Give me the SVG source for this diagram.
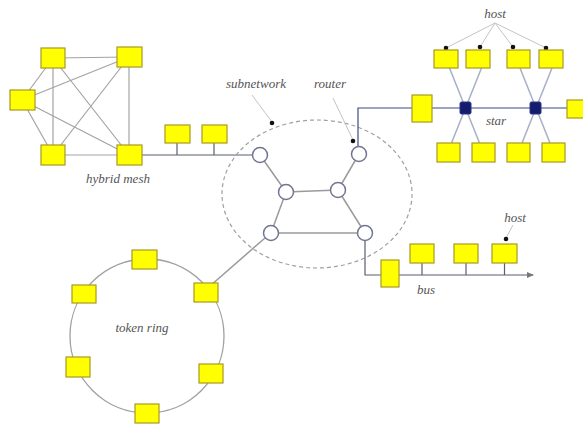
<svg xmlns="http://www.w3.org/2000/svg" width="583" height="425" viewBox="0 0 583 425">
  <style>
    .box { fill: #ffff00; stroke: #a89a20; stroke-width: 1.2; }
    .mesh { stroke: #a3a3a3; stroke-width: 1.2; fill: none; }
    .bus { stroke: #5a5f70; stroke-width: 1.2; fill: none; }
    .starbus { stroke: #3c4a86; stroke-width: 1.2; fill: none; }
    .spoke { stroke: #a6b0c4; stroke-width: 1.5; fill: none; }
    .link { stroke: #9a9a9a; stroke-width: 1.5; fill: none; }
    .lead { stroke: #c4c4c4; stroke-width: 1; fill: none; }
    .router { fill: #ffffff; stroke: #727592; stroke-width: 1.5; }
    .hub { fill: #141c6e; stroke: #2a3484; stroke-width: 1; }
    .dot { fill: #111111; }
    .label { font-family: "Liberation Serif", "Times New Roman", serif; font-style: italic; font-size: 13px; fill: #555555; text-anchor: middle; }
  </style>
  <defs>
    <marker id="tip" viewBox="0 0 6 6" refX="5" refY="3" markerWidth="6" markerHeight="6" orient="auto">
      <path d="M0,0.5 L6,3 L0,5.5 Z" fill="#777777"/>
    </marker>
  </defs>

  <rect width="583" height="425" fill="#ffffff"/>

  <g id="connectors">
    <!-- hybrid mesh: full mesh between five hosts -->
    <line class="mesh" x1="53" y1="58" x2="129" y2="57"/>
    <line class="mesh" x1="53" y1="58" x2="22" y2="100"/>
    <line class="mesh" x1="53" y1="58" x2="53" y2="155"/>
    <line class="mesh" x1="53" y1="58" x2="129" y2="155"/>
    <line class="mesh" x1="129" y1="57" x2="22" y2="100"/>
    <line class="mesh" x1="129" y1="57" x2="53" y2="155"/>
    <line class="mesh" x1="129" y1="57" x2="129" y2="155"/>
    <line class="mesh" x1="22" y1="100" x2="53" y2="155"/>
    <line class="mesh" x1="22" y1="100" x2="129" y2="155"/>
    <line class="mesh" x1="53" y1="155" x2="129" y2="155"/>
    <!-- bus from the mesh to the subnetwork -->
    <line class="bus" x1="129" y1="155" x2="252.5" y2="155"/>
    <line class="bus" x1="177" y1="143" x2="177" y2="155"/>
    <line class="bus" x1="214" y1="143" x2="214" y2="155"/>

    <!-- subnetwork boundary -->
    <ellipse cx="317" cy="194" rx="95" ry="74" fill="none" stroke="#a0a0a0" stroke-width="1.2" stroke-dasharray="4 3"/>

    <!-- router links -->
    <line class="link" x1="260" y1="155" x2="286" y2="192"/>
    <line class="link" x1="359" y1="154" x2="338" y2="190"/>
    <line class="link" x1="286" y1="192" x2="338" y2="190"/>
    <line class="link" x1="286" y1="192" x2="271" y2="233"/>
    <line class="link" x1="338" y1="190" x2="365" y2="233"/>
    <line class="link" x1="271" y1="233" x2="365" y2="233"/>

    <!-- token ring -->
    <circle cx="147" cy="336" r="77" fill="none" stroke="#a0a0a0" stroke-width="1.3"/>
    <line class="link" x1="210" y1="286" x2="265" y2="238"/>

    <!-- star: trunk from router -->
    <polyline class="starbus" points="358,146.5 358,108 583,108"/>
    <line class="spoke" x1="449.5" y1="68" x2="479.5" y2="143"/>
    <line class="spoke" x1="481.5" y1="68" x2="451.5" y2="143"/>
    <line class="spoke" x1="520" y1="68" x2="550" y2="143"/>
    <line class="spoke" x1="552" y1="68" x2="522" y2="143"/>
    <!-- host labels on the star -->
    <line class="lead" x1="495" y1="23" x2="446" y2="48"/>
    <line class="lead" x1="495" y1="23" x2="480" y2="47"/>
    <line class="lead" x1="495" y1="23" x2="513" y2="47"/>
    <line class="lead" x1="495" y1="23" x2="546" y2="48"/>

    <!-- bus from lower router -->
    <polyline class="bus" points="365,240.5 365,275 533,275" marker-end="url(#tip)"/>
    <line class="bus" x1="422" y1="263" x2="422" y2="275"/>
    <line class="bus" x1="466" y1="263" x2="466" y2="275"/>
    <line class="bus" x1="504.5" y1="263" x2="504.5" y2="275"/>
    <line class="lead" x1="513" y1="225" x2="506" y2="238"/>

    <!-- leaders for subnetwork and router labels -->
    <line class="lead" x1="252" y1="95" x2="272" y2="122"/>
    <line class="lead" x1="333" y1="98" x2="353" y2="140"/>
  </g>

  <!-- hybrid mesh hosts -->
  <g id="mesh-hosts">
    <rect class="box" x="41" y="48" width="24" height="20"/>
    <rect class="box" x="117" y="47" width="25" height="20"/>
    <rect class="box" x="10" y="90" width="25" height="20"/>
    <rect class="box" x="41" y="145" width="24" height="20"/>
    <rect class="box" x="117" y="145" width="25" height="20"/>
  </g>
  <g id="mesh-bus-hosts">
    <rect class="box" x="165" y="125" width="25" height="18"/>
    <rect class="box" x="202" y="125" width="25" height="18"/>
  </g>

  <!-- routers of the subnetwork -->
  <g id="routers">
    <circle class="router" cx="260" cy="155" r="7.5"/>
    <circle class="router" cx="359" cy="154" r="7.5"/>
    <circle class="router" cx="286" cy="192" r="7.5"/>
    <circle class="router" cx="338" cy="190" r="7.5"/>
    <circle class="router" cx="271" cy="233" r="7.5"/>
    <circle class="router" cx="365" cy="233" r="7.5"/>
  </g>
  <g id="pointers">
    <circle class="dot" cx="272" cy="123" r="2.3"/>
    <circle class="dot" cx="353" cy="141" r="2.3"/>
    <circle class="dot" cx="446" cy="48" r="2.3"/>
    <circle class="dot" cx="480" cy="47" r="2.3"/>
    <circle class="dot" cx="513" cy="47" r="2.3"/>
    <circle class="dot" cx="546" cy="48" r="2.3"/>
    <circle class="dot" cx="506" cy="239" r="2.3"/>
  </g>

  <!-- star hosts and hubs -->
  <g id="star-hosts">
    <rect class="box" x="434" y="50" width="24" height="18"/>
    <rect class="box" x="466" y="50" width="24" height="18"/>
    <rect class="box" x="507" y="50" width="23" height="18"/>
    <rect class="box" x="539" y="50" width="24" height="18"/>
    <rect class="box" x="437" y="143" width="23" height="19"/>
    <rect class="box" x="472" y="143" width="23" height="19"/>
    <rect class="box" x="507" y="143" width="23" height="19"/>
    <rect class="box" x="542" y="143" width="23" height="19"/>
    <rect class="box" x="412" y="95" width="20" height="27"/>
    <rect class="box" x="567" y="100" width="24" height="18"/>
  </g>
  <g id="star-hubs">
    <rect class="hub" x="460" y="102" width="11" height="12" rx="1.5"/>
    <rect class="hub" x="530" y="102" width="11" height="12" rx="1.5"/>
  </g>

  <!-- bus hosts -->
  <g id="bus-hosts">
    <rect class="box" x="381" y="260" width="18" height="27"/>
    <rect class="box" x="410" y="244" width="24" height="19"/>
    <rect class="box" x="454" y="244" width="24" height="19"/>
    <rect class="box" x="492" y="244" width="25" height="19"/>
  </g>

  <!-- token ring hosts -->
  <g id="ring-hosts">
    <rect class="box" x="132" y="250" width="25" height="19"/>
    <rect class="box" x="72" y="285" width="24" height="18"/>
    <rect class="box" x="194" y="283" width="24" height="19"/>
    <rect class="box" x="66" y="357" width="24" height="20"/>
    <rect class="box" x="199" y="364" width="24" height="19"/>
    <rect class="box" x="135" y="404" width="24" height="19"/>
  </g>

  <g id="labels">
    <text class="label" x="118" y="183">hybrid mesh</text>
    <text class="label" x="256" y="88">subnetwork</text>
    <text class="label" x="330" y="88">router</text>
    <text class="label" x="495" y="18">host</text>
    <text class="label" x="496" y="125">star</text>
    <text class="label" x="515" y="222">host</text>
    <text class="label" x="426" y="294">bus</text>
    <text class="label" x="142" y="332">token ring</text>
  </g>
</svg>
